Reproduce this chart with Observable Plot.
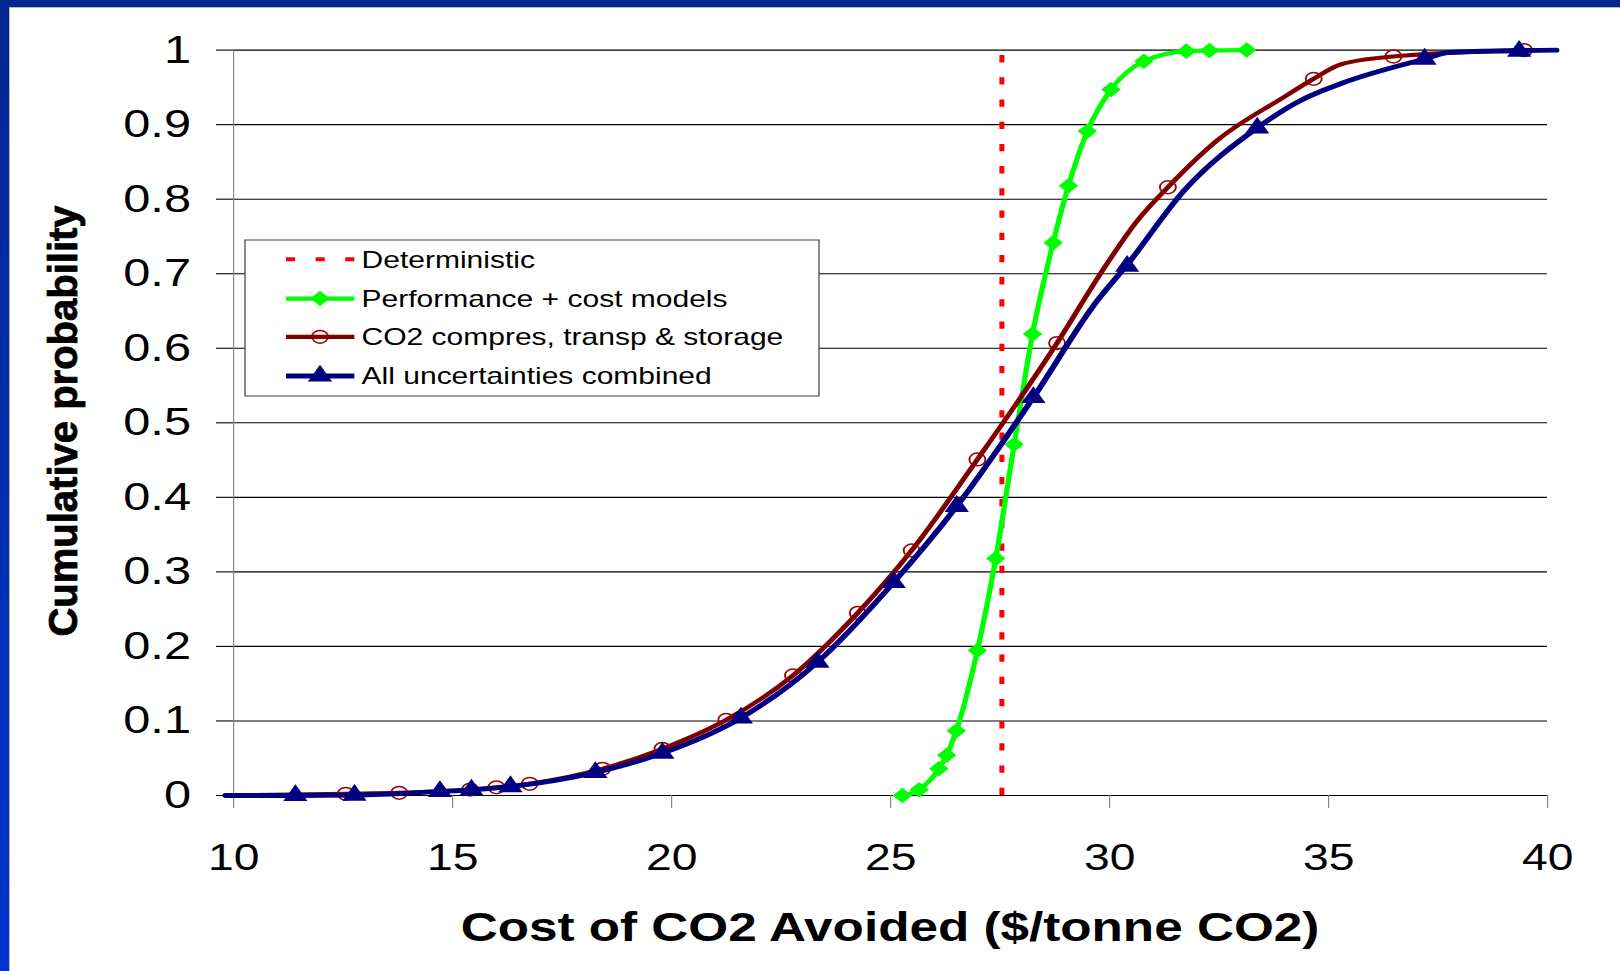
<!DOCTYPE html>
<html><head><meta charset="utf-8">
<script src="https://cdn.jsdelivr.net/npm/d3@7"></script>
<script src="https://cdn.jsdelivr.net/npm/@observablehq/plot@0.6"></script>
<style>
html,body{margin:0;padding:0;background:#fff;}
#page{position:relative;width:1620px;height:971px;overflow:hidden;background:#fff;}
#chart{position:absolute;left:0;top:0;width:1620px;height:971px;}
#gl{position:absolute;left:9px;top:7px;width:1611px;height:964px;border-left:1px solid #b8b8b8;border-top:1px solid #b8b8b8;box-sizing:border-box;}
#bt{position:absolute;left:0;top:0;width:1620px;height:7px;background:#00268f;}
#bl{position:absolute;left:0;top:0;width:9px;height:971px;background:linear-gradient(#00268f,#0034d0);}
</style></head>
<body><div id="page"><div id="chart"></div><div id="gl"></div><div id="bt"></div><div id="bl"></div></div>
<script>
// ---------- data ----------
const xTicks = [10, 15, 20, 25, 30, 35, 40];
const xTickLabels = ["10", "15", "20", "25", "30", "35", "40"];
const yTicks = [0, 0.1, 0.2, 0.3, 0.4, 0.5, 0.6, 0.7, 0.8, 0.9, 1];
const yTickLabels = ["0", "0.1", "0.2", "0.3", "0.4", "0.5", "0.6", "0.7", "0.8", "0.9", "1"];

const seriesNames = ["Deterministic", "Performance + cost models", "CO2 compres, transp & storage", "All uncertainties combined"];
const deterministicCost = 27.54;

const perfX = [25.27, 25.65, 26.10, 26.28, 26.50, 26.98, 27.40, 27.82, 28.24, 28.71, 29.06, 29.49, 30.03, 30.78, 31.75, 32.28, 33.13];
const perfY = [0.000, 0.0076, 0.036, 0.054, 0.087, 0.1945, 0.318, 0.471, 0.619, 0.7415, 0.818, 0.891, 0.947, 0.985, 0.9986, 0.9995, 1.0];

const co2LineX = [9.80, 12.56, 13.78, 15.40, 16.00, 16.76, 18.42, 19.79, 21.25, 22.77, 24.25, 25.48, 26.98, 28.80, 29.79, 30.63, 31.33, 32.46, 33.98, 34.66, 35.27, 36.48, 39.46];
const co2LineY = [0.000, 0.0023, 0.0036, 0.008, 0.011, 0.0157, 0.0358, 0.0626, 0.1015, 0.161, 0.245, 0.3287, 0.4508, 0.607, 0.700, 0.771, 0.816, 0.879, 0.937, 0.9615, 0.9807, 0.9914, 1.0];
const co2MarkX = [12.56, 13.78, 15.40, 16.00, 16.76, 18.42, 19.79, 21.25, 22.77, 24.25, 25.48, 26.98, 28.80, 31.33, 34.66, 36.48, 39.46];
const co2MarkY = [0.0023, 0.0036, 0.008, 0.011, 0.0157, 0.0358, 0.0626, 0.1015, 0.161, 0.245, 0.3287, 0.4508, 0.607, 0.816, 0.9615, 0.9914, 1.0];

const allLineX = [9.82, 11.41, 12.76, 14.71, 15.43, 16.32, 18.26, 19.79, 21.58, 23.33, 25.07, 26.51, 28.26, 29.72, 30.40, 31.70, 33.37, 34.36, 35.27, 37.19, 37.78, 40.20];
const allLineY = [0.000, 0.000, 0.0005, 0.0054, 0.0076, 0.012, 0.031, 0.0568, 0.104, 0.179, 0.286, 0.388, 0.534, 0.664, 0.712, 0.8116, 0.8957, 0.9324, 0.9548, 0.988, 0.997, 1.0];
const allMarkX = [11.41, 12.76, 14.71, 15.43, 16.32, 18.26, 19.79, 21.58, 23.33, 25.07, 26.51, 28.26, 30.40, 33.37, 37.19, 39.35];
const allMarkY = [0.000, 0.0005, 0.0054, 0.0076, 0.012, 0.031, 0.0568, 0.104, 0.179, 0.286, 0.388, 0.534, 0.710, 0.8957, 0.988, 0.9986];

// ---------- build ----------
const zip = (xs, ys) => xs.map((x, i) => ({x, y: ys[i]}));
const perf = zip(perfX, perfY);
const co2Line = zip(co2LineX, co2LineY), co2Mark = zip(co2MarkX, co2MarkY);
const allLine = zip(allLineX, allLineY), allMark = zip(allMarkX, allMarkY);

const FONT = "'Liberation Sans', Arial, Helvetica, sans-serif";
const SX = 1.25;              // the reference is horizontally stretched
const W = 1620 / SX, H = 971;
const C = {det: "#ff0000", perf: "#00ff00", co2: "#800000", co2m: "#a00000", all: "#000080"};
const R = {circle: 6.4, tri: 7.2, dia: 7.0};
const SW = {det: 4.0, perf: 4.2, co2: 4.2, all: 4.8};

const plot = Plot.plot({
  width: W, height: H,
  marginLeft: 186.4, marginRight: 58.4, marginTop: 49.6, marginBottom: 176,
  style: {fontFamily: FONT, color: "#000", background: "transparent", overflow: "visible"},
  x: {domain: [10, 40]},
  y: {domain: [0, 1]},
  marks: [
    Plot.ruleY(yTicks, {stroke: "#000", strokeWidth: 1.1}),
    Plot.ruleX([10], {y1: 0, y2: 1, stroke: "#808080", strokeWidth: 0.9}),
    Plot.axisY({ticks: yTicks, tickFormat: d => yTickLabels[yTicks.indexOf(d)], tickSize: 13.6, tickPadding: 20.5,
      fontSize: 39, stroke: "#000", strokeWidth: 1.1, fill: "#000", label: null}),
    Plot.axisX({ticks: xTicks, tickFormat: d => xTickLabels[xTicks.indexOf(d)], tickSize: 13, tickPadding: 35,
      fontSize: 37, stroke: "#808080", strokeWidth: 0.9, fill: "#000", label: null}),
    Plot.ruleX([deterministicCost], {y1: 0, y2: 1, stroke: C.det, strokeWidth: SW.det, strokeDasharray: "7.3,14.9"}),
    Plot.line(perf, {x: "x", y: "y", stroke: C.perf, strokeWidth: SW.perf, curve: "monotone-x"}),
    Plot.dot(perf, {x: "x", y: "y", symbol: "diamond2", r: R.dia, fill: C.perf, stroke: "none"}),
    Plot.line(co2Line, {x: "x", y: "y", stroke: C.co2, strokeWidth: SW.co2, curve: "monotone-x"}),
    Plot.dot(co2Mark, {x: "x", y: "y", symbol: "circle", r: R.circle, fill: "none", stroke: C.co2m, strokeWidth: 1.5}),
    Plot.line(allLine, {x: "x", y: "y", stroke: C.all, strokeWidth: SW.all, curve: "monotone-x"}),
    Plot.dot(allMark, {x: "x", y: "y", symbol: "triangle", r: R.tri, fill: C.all, stroke: "none"})
  ]
});

// stretch horizontally like the reference
plot.setAttribute("width", 1620);
plot.setAttribute("height", 971);
plot.setAttribute("preserveAspectRatio", "none");
plot.style.width = "1620px";
plot.style.height = "971px";
plot.style.maxWidth = "none";

const svg = d3.select(plot);
// axis titles
svg.append("text")
  .attr("transform", "translate(50,421) rotate(-90) scale(1,0.8)")
  .attr("text-anchor", "middle").attr("dy", "0.36em")
  .attr("font-family", FONT).attr("font-weight", "bold").attr("font-size", 40)
  .attr("stroke", "#000").attr("stroke-width", 0.8)
  .attr("fill", "#000")
  .text("Cumulative probability");
svg.append("text")
  .attr("x", 712).attr("y", 941)
  .attr("text-anchor", "middle")
  .attr("font-family", FONT).attr("font-weight", "bold").attr("font-size", 41).attr("fill", "#000")
  .text("Cost of CO2 Avoided ($/tonne CO2)");

// legend
const lg = svg.append("g").attr("text-anchor", "start");
lg.append("rect").attr("x", 196).attr("y", 240).attr("width", 459.2).attr("height", 156)
  .attr("fill", "#fff").attr("stroke", "#444").attr("stroke-width", 1);
const rows = [259.3, 298.6, 336.8, 376];
const sym = (type, r) => d3.symbol().type(type).size(Math.PI * r * r)();
const legendItems = [
  {color: C.det, dash: "7.3,16.4", width: SW.det},
  {color: C.perf, width: SW.perf, symbol: sym(d3.symbolDiamond2, R.dia), fill: C.perf},
  {color: C.co2, width: SW.co2, symbol: sym(d3.symbolCircle, R.circle), fill: "none", stroke: C.co2m},
  {color: C.all, width: SW.all, symbol: sym(d3.symbolTriangle, R.tri), fill: C.all}
];
legendItems.forEach((it, i) => {
  const y = rows[i];
  lg.append("line").attr("x1", 228.8).attr("x2", 283.5).attr("y1", y).attr("y2", y)
    .attr("stroke", it.color).attr("stroke-width", it.width).attr("stroke-dasharray", it.dash || null);
  if (it.symbol) {
    lg.append("path").attr("d", it.symbol).attr("transform", `translate(256,${y})`)
      .attr("fill", it.fill).attr("stroke", it.stroke || "none").attr("stroke-width", 1.5);
  }
  lg.append("text").attr("x", 289.3).attr("y", y).attr("dy", "0.35em")
    .attr("text-anchor", "start")
    .attr("font-family", FONT).attr("font-size", 24).attr("fill", "#000")
    .text(seriesNames[i]);
});

document.getElementById("chart").appendChild(plot);
</script>
</body></html>
